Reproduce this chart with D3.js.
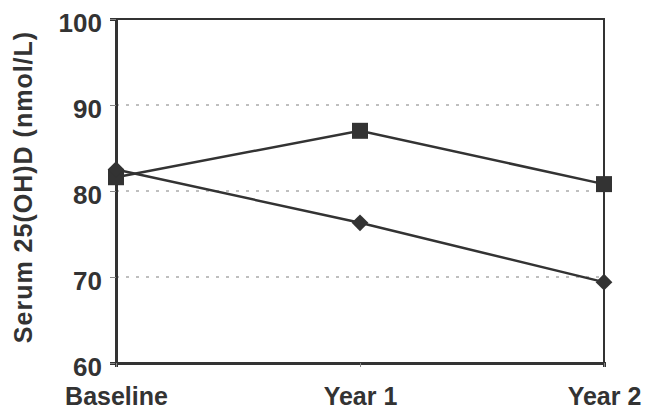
<!DOCTYPE html>
<meta charset="utf-8">
<style>
body { margin: 0; background: #fff; }
.tick text { font: bold 26px "Liberation Sans", Arial, sans-serif; fill: #333; }
.xlab .tick text { font-size: 25px; }
.grid line { stroke: #aaa; stroke-dasharray: 3,7; stroke-width: 1.5px; }
.series { fill: none; stroke: #333; stroke-width: 2.5px; }
</style>
<body>
<script src="https://cdn.jsdelivr.net/npm/d3@7"></script>
<script>

// chart data
var timepoints = ["Baseline", "Year 1", "Year 2"];
var squareValues = [81.6, 87.0, 80.8];
var diamondValues = [82.5, 76.3, 69.4];
var yTicks = [60, 70, 80, 90, 100];

var margin = {top: 19, right: 42, bottom: 47, left: 116},
    width = 646 - margin.left - margin.right,
    height = 410 - margin.top - margin.bottom;

var svg = d3.select("body").append("svg")
    .attr("width", 646)
    .attr("height", 410);

var g = svg.append("g")
    .attr("transform", "translate(" + margin.left + "," + margin.top + ")");

var x = d3.scalePoint().domain(timepoints).range([0, width]);
var y = d3.scaleLinear().domain([60, 100]).range([height, 0]);

// dotted gridlines
g.append("g").attr("class", "grid")
  .selectAll("line")
  .data(yTicks.filter(d => d > 60 && d < 100))
  .enter().append("line")
    .attr("x1", 0).attr("x2", width)
    .attr("y1", d => y(d)).attr("y2", d => y(d));

// frame
g.append("rect")
    .attr("width", width).attr("height", height)
    .attr("fill", "none").attr("stroke", "#333").attr("stroke-width", 2);

// y axis
var yAxis = g.append("g")
    .call(d3.axisLeft(y).tickValues(yTicks).tickSize(6).tickPadding(8));
yAxis.select(".domain").attr("stroke", "#333").attr("stroke-width", 3);
yAxis.selectAll(".tick line").attr("stroke", "#888");
yAxis.selectAll(".tick text").attr("dy", "0.48em");

// x axis
var xAxis = g.append("g")
    .attr("class", "xlab")
    .attr("transform", "translate(0," + height + ")")
    .call(d3.axisBottom(x).tickSize(4).tickPadding(20));
xAxis.select(".domain").attr("stroke", "#333").attr("stroke-width", 3);
xAxis.selectAll(".tick line").attr("stroke", "#888");

// y title
svg.append("text")
    .attr("transform", "translate(32," + (margin.top + 168) + ") rotate(-90)")
    .attr("text-anchor", "middle")
    .style("font", "bold 25px 'Liberation Sans', Arial, sans-serif")
    .style("letter-spacing", "1px")
    .attr("fill", "#333")
    .text("Serum 25(OH)D (nmol/L)");

var line = d3.line()
    .x((d, i) => x(timepoints[i]))
    .y(d => y(d));

g.append("path").attr("class", "series").attr("d", line(squareValues));
g.append("path").attr("class", "series").attr("d", line(diamondValues));

g.selectAll(".sq")
  .data(squareValues)
  .enter().append("path")
    .attr("class", "sq")
    .attr("d", d3.symbol().type(d3.symbolSquare).size(256))
    .attr("transform", (d, i) => "translate(" + x(timepoints[i]) + "," + y(d) + ")")
    .attr("fill", "#333");

g.selectAll(".dm")
  .data(diamondValues)
  .enter().append("path")
    .attr("class", "dm")
    .attr("d", d3.symbol().type(d3.symbolSquare).size(140))
    .attr("transform", (d, i) => "translate(" + x(timepoints[i]) + "," + y(d) + ") rotate(45)")
    .attr("fill", "#333");

</script>
</body>
